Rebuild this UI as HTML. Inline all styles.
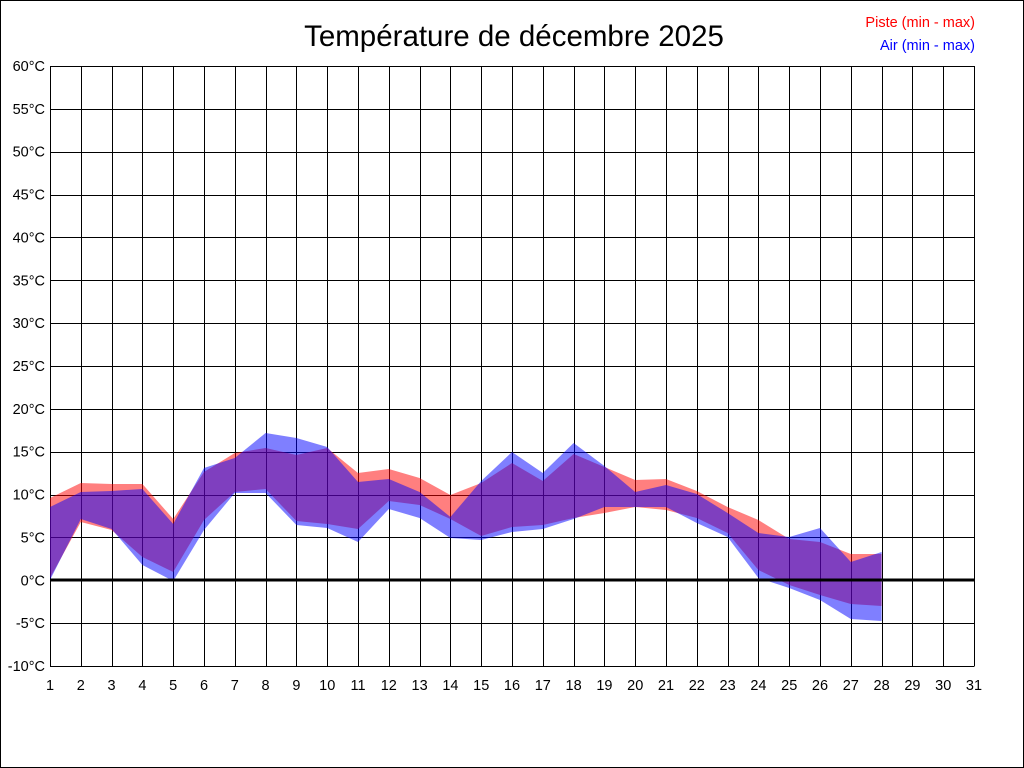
<!DOCTYPE html>
<html><head><meta charset="utf-8"><style>
html,body{margin:0;padding:0;background:#fff}
svg{display:block}
text{font-family:"Liberation Sans",Arial,sans-serif}
</style></head><body>
<svg width="1024" height="768" viewBox="0 0 1024 768" xmlns="http://www.w3.org/2000/svg">
<rect x="0.5" y="0.5" width="1023" height="767" fill="#fff" stroke="#000"/>
<text x="514" y="46" font-size="29.5" text-anchor="middle">Température de décembre 2025</text>
<text x="975" y="27" font-size="14.5" text-anchor="end" fill="#ff0000">Piste (min - max)</text>
<text x="975" y="50" font-size="14.5" text-anchor="end" fill="#0000ff">Air (min - max)</text>
<g id="grid" stroke="#000" stroke-width="1" shape-rendering="crispEdges"></g>
<g id="fills"></g>
<line x1="50" y1="580" x2="974" y2="580" stroke="#000" stroke-width="3"/>
<g id="labels" font-size="14.5"></g>
</svg>
<script>
var ns="http://www.w3.org/2000/svg";
var g=document.getElementById('grid'),L=document.getElementById('labels'),F=document.getElementById('fills');
function X(d){return 50+(d-1)*30.8;}
function Y(t){return 580.3-t*600/70;}
for(var d=1;d<=31;d++){var x=Math.round(X(d))+0.5;var l=document.createElementNS(ns,'line');l.setAttribute('x1',x);l.setAttribute('x2',x);l.setAttribute('y1',66);l.setAttribute('y2',666);g.appendChild(l);
var t=document.createElementNS(ns,'text');t.setAttribute('x',X(d));t.setAttribute('y',690);t.setAttribute('text-anchor','middle');t.textContent=d;L.appendChild(t);}
for(var v=-10;v<=60;v+=5){var y=Math.round(Y(v))+0.5;var l=document.createElementNS(ns,'line');l.setAttribute('x1',50);l.setAttribute('x2',974.5);l.setAttribute('y1',y);l.setAttribute('y2',y);g.appendChild(l);
var t=document.createElementNS(ns,'text');t.setAttribute('x',45);t.setAttribute('y',Y(v)+5);t.setAttribute('text-anchor','end');t.textContent=v+'°C';L.appendChild(t);}
var rmax=[498,483,484,484,519,472,453,448,455,448,473,469,478,495,483,463,481,454,467,480,479,491,507,520,539,542,554,554];
var rmin=[578,522,530,557,572,520,492,489,521,524,529,501,505,519,536,527,525,518,513,507,510,518,533,570,585,595,604,606];
var bmax=[507,492,491,489,524,468,458,433,438,447,482,479,492,517,481,452,473,443,466,492,485,494,513,533,537,528,562,552];
var bmin=[580,519,529,565,581,530,493,493,525,528,542,509,518,538,540,532,529,519,507,507,507,523,537,578,588,600,619,621];
function poly(top,bot,col){var p=[];for(var i=0;i<top.length;i++)p.push(X(i+1)+','+top[i]);for(var i=bot.length-1;i>=0;i--)p.push(X(i+1)+','+bot[i]);
var e=document.createElementNS(ns,'polygon');e.setAttribute('points',p.join(' '));e.setAttribute('fill',col);e.setAttribute('fill-opacity','0.5');F.appendChild(e);}
poly(rmax,rmin,'#ff0000');poly(bmax,bmin,'#0000ff');
</script>
</body></html>
